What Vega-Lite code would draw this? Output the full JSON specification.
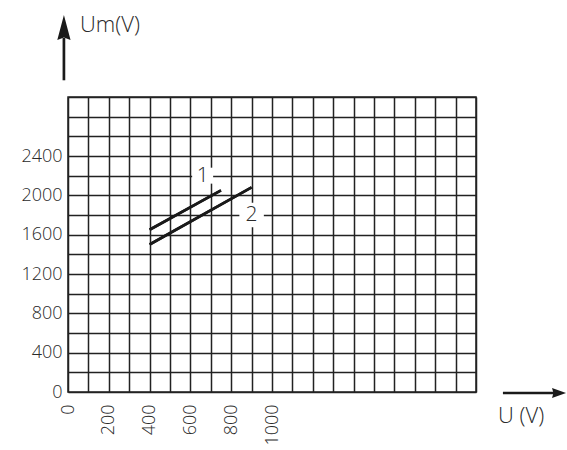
{
  "$schema": "https://vega.github.io/schema/vega-lite/v6.json",
  "width": 408,
  "height": 295,
  "autosize": {"type": "none"},
  "padding": {"left": 68, "top": 97, "right": 91, "bottom": 58},
  "background": "white",
  "config": {
    "view": {"stroke": "#222", "strokeWidth": 1.5},
    "font": "Open Sans"
  },
  "resolve": {"axis": {"x": "independent", "y": "independent"}},
  "datasets": {
    "curves": [
      {"series": "1", "U": 400, "Um": 1650},
      {"series": "1", "U": 750, "Um": 2050},
      {"series": "2", "U": 400, "Um": 1500},
      {"series": "2", "U": 900, "Um": 2080}
    ],
    "labels": [
      {"label": "1", "U": 660, "Um": 2200},
      {"label": "2", "U": 900, "Um": 1800}
    ],
    "arrowLines": [
      {"axis": "y", "x1": -20, "x2": -20, "y1": 3170, "y2": 3600},
      {"axis": "x", "x1": 2132, "x2": 2390, "y1": -10, "y2": -10}
    ],
    "axisTitles": [
      {"text": "Um(V)", "x": 59, "y": 3660},
      {"text": "U (V)", "x": 2108, "y": -315}
    ]
  },
  "layer": [
    {
      "data": {"name": "curves"},
      "mark": {"type": "line", "stroke": "#1a1a1a", "strokeWidth": 2.6, "clip": false},
      "encoding": {
        "x": {
          "field": "U", "type": "quantitative",
          "scale": {"domain": [0, 2000], "nice": false, "zero": false},
          "axis": {
            "title": null,
            "values": [0,100,200,300,400,500,600,700,800,900,1000,1100,1200,1300,1400,1500,1600,1700,1800,1900,2000],
            "labelExpr": "(datum.value % 200 == 0 && datum.value <= 1000) ? datum.label : ''",
            "format": "d",
            "grid": true, "gridColor": "#222", "gridWidth": 1.5, "gridOpacity": 1,
            "ticks": false, "domain": false,
            "labelAngle": -90, "labelAlign": "right", "labelBaseline": "middle",
            "labelPadding": 12, "labelFlush": false, "labelOverlap": false,
            "labelFont": "Open Sans", "labelFontWeight": 300, "labelFontSize": 18, "labelColor": "#2a2a2a"
          }
        },
        "y": {
          "field": "Um", "type": "quantitative",
          "scale": {"domain": [0, 3000], "nice": false, "zero": false},
          "axis": {
            "title": null,
            "values": [0,200,400,600,800,1000,1200,1400,1600,1800,2000,2200,2400,2600,2800,3000],
            "labelExpr": "(datum.value % 400 == 0 && datum.value <= 2400) ? datum.label : ''",
            "format": "d",
            "grid": true, "gridColor": "#222", "gridWidth": 1.5, "gridOpacity": 1,
            "ticks": false, "domain": false,
            "labelPadding": 6, "labelFlush": false, "labelOverlap": false,
            "labelFont": "Open Sans", "labelFontWeight": 300, "labelFontSize": 18, "labelColor": "#2a2a2a"
          }
        },
        "detail": {"field": "series"}
      }
    },
    {
      "data": {"name": "labels"},
      "transform": [{"filter": "datum.label == '1'"}],
      "mark": {"type": "point", "shape": "M-1,-0.76L1,-0.76L1,0.76L-1,0.76Z", "size": 441, "filled": true, "fill": "white", "stroke": null, "opacity": 1},
      "encoding": {
        "x": {"field": "U", "type": "quantitative", "axis": null},
        "y": {"field": "Um", "type": "quantitative", "axis": null}
      }
    },
    {
      "data": {"name": "labels"},
      "transform": [{"filter": "datum.label == '2'"}],
      "mark": {"type": "point", "shape": "square", "size": 600, "filled": true, "fill": "white", "stroke": null, "opacity": 1},
      "encoding": {
        "x": {"field": "U", "type": "quantitative", "axis": null},
        "y": {"field": "Um", "type": "quantitative", "axis": null}
      }
    },
    {
      "data": {"name": "curves"},
      "mark": {"type": "line", "stroke": "#1a1a1a", "strokeWidth": 2.6, "clip": false},
      "encoding": {
        "x": {"field": "U", "type": "quantitative", "axis": null},
        "y": {"field": "Um", "type": "quantitative", "axis": null},
        "detail": {"field": "series"}
      }
    },
    {
      "data": {"name": "labels"},
      "mark": {"type": "text", "fontSize": 21, "fontWeight": 300, "font": "Open Sans", "color": "#2a2a2a", "align": "center", "baseline": "middle"},
      "encoding": {
        "x": {"field": "U", "type": "quantitative", "axis": null},
        "y": {"field": "Um", "type": "quantitative", "axis": null},
        "text": {"field": "label"}
      }
    },
    {
      "data": {"name": "arrowLines"},
      "mark": {"type": "rule", "stroke": "#1a1a1a", "strokeWidth": 2.7, "clip": false},
      "encoding": {
        "x": {"field": "x1", "type": "quantitative", "axis": null},
        "x2": {"field": "x2"},
        "y": {"field": "y1", "type": "quantitative", "axis": null},
        "y2": {"field": "y2"}
      }
    },
    {
      "data": {"name": "arrowLines"},
      "transform": [{"filter": "datum.axis == 'y'"}],
      "mark": {"type": "point", "shape": "M-0.53,1L0,-1L0.53,1L0,0.8Z", "size": 625, "filled": true, "fill": "#1a1a1a", "stroke": null, "opacity": 1, "clip": false},
      "encoding": {
        "x": {"field": "x1", "type": "quantitative", "axis": null},
        "y": {"datum": 3706, "type": "quantitative", "axis": null}
      }
    },
    {
      "data": {"name": "arrowLines"},
      "transform": [{"filter": "datum.axis == 'x'"}],
      "mark": {"type": "point", "shape": "M-1,-0.72L1,0L-1,0.72L-0.8,0Z", "size": 196, "filled": true, "fill": "#1a1a1a", "stroke": null, "opacity": 1, "clip": false},
      "encoding": {
        "x": {"datum": 2407, "type": "quantitative", "axis": null},
        "y": {"field": "y1", "type": "quantitative", "axis": null}
      }
    },
    {
      "data": {"name": "axisTitles"},
      "mark": {"type": "text", "fontSize": 22, "fontWeight": 300, "font": "Open Sans", "color": "#2a2a2a", "align": "left", "baseline": "alphabetic"},
      "encoding": {
        "x": {"field": "x", "type": "quantitative", "axis": null},
        "y": {"field": "y", "type": "quantitative", "axis": null},
        "text": {"field": "text"}
      }
    }
  ]
}
